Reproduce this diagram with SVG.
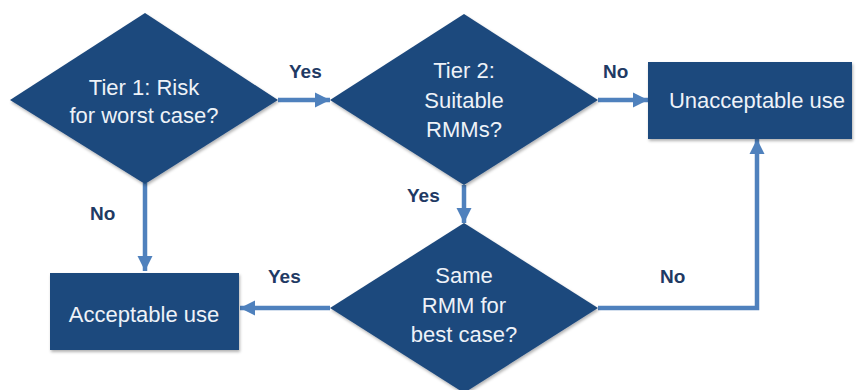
<svg xmlns="http://www.w3.org/2000/svg" width="857" height="390" viewBox="0 0 857 390">
  <defs>
    <filter id="sh" x="-10%" y="-10%" width="130%" height="130%">
      <feDropShadow dx="1" dy="2" stdDeviation="1.5" flood-color="#000" flood-opacity="0.3"/>
    </filter>
    <marker id="ah" markerUnits="userSpaceOnUse" markerWidth="16" markerHeight="16" viewBox="0 0 16 16" refX="15" refY="8" orient="auto">
      <path d="M0,0.5 L15,8 L0,15.5 Z" fill="#4f81bd"/>
    </marker>
    <style>
      .shape { fill: #1f497d; filter: url(#sh); }
      .txt { font-family: "Liberation Sans", Arial, sans-serif; font-size: 22px; fill: #eef2f8; text-anchor: middle; }
      .lbl { font-family: "Liberation Sans", Arial, sans-serif; font-size: 19px; font-weight: bold; fill: #1f3a64; }
      .conn { stroke: #4f81bd; stroke-width: 4.5; fill: none; marker-end: url(#ah); }
    </style>
  </defs>
  <rect width="857" height="390" fill="#ffffff"/>

  <g id="connectors">
    <line class="conn" x1="278" y1="100" x2="330" y2="100"/>
    <line class="conn" x1="598" y1="100" x2="648" y2="100"/>
    <line class="conn" x1="464" y1="185" x2="464" y2="223"/>
    <line class="conn" x1="145" y1="183" x2="145" y2="271"/>
    <line class="conn" x1="330" y1="308" x2="240" y2="308"/>
    <polyline class="conn" points="598,308 757,308 757,139"/>
  </g>

  <g id="tier1">
    <polygon class="shape" points="145,13 278,100 145,184 10,100"/>
    <text class="txt" x="144" y="95">Tier 1: Risk</text>
    <text class="txt" x="144" y="123">for worst case?</text>
  </g>

  <g id="tier2">
    <polygon class="shape" points="464,14 598,100 464,185 330,100"/>
    <text class="txt" x="464" y="78">Tier 2:</text>
    <text class="txt" x="464" y="108">Suitable</text>
    <text class="txt" x="464" y="137">RMMs?</text>
  </g>

  <g id="unacceptable">
    <rect class="shape" x="648" y="62" width="204" height="77"/>
    <text class="txt" x="757" y="108">Unacceptable use</text>
  </g>

  <g id="acceptable">
    <rect class="shape" x="50" y="273" width="189" height="77"/>
    <text class="txt" x="144" y="322">Acceptable use</text>
  </g>

  <g id="tier3">
    <polygon class="shape" points="464,223 598,308 464,393 330,308"/>
    <text class="txt" x="464" y="283">Same</text>
    <text class="txt" x="464" y="313">RMM for</text>
    <text class="txt" x="464" y="342">best case?</text>
  </g>

  <g id="labels">
    <text class="lbl" x="289" y="78">Yes</text>
    <text class="lbl" x="603" y="78">No</text>
    <text class="lbl" x="407" y="202">Yes</text>
    <text class="lbl" x="90" y="220">No</text>
    <text class="lbl" x="268" y="283">Yes</text>
    <text class="lbl" x="660" y="283">No</text>
  </g>
</svg>
